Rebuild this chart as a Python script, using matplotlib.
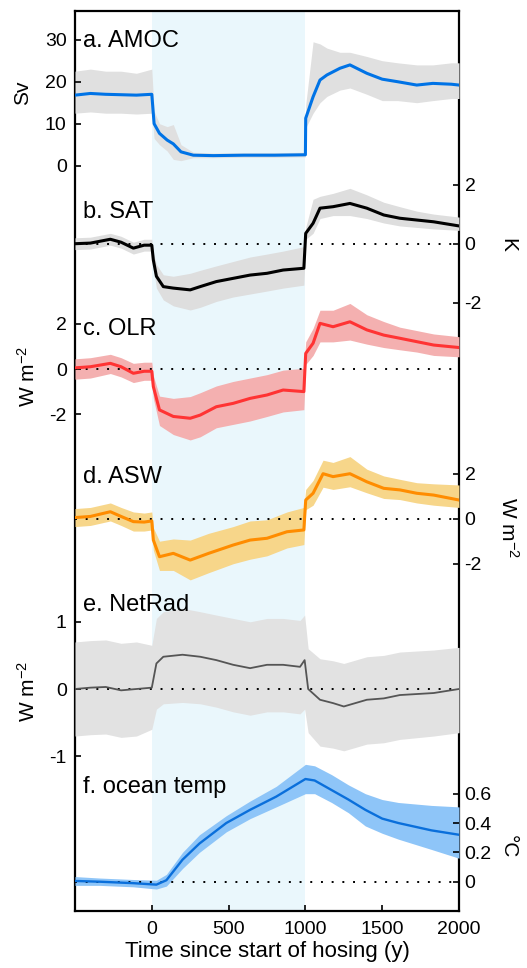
import numpy as np
import matplotlib
matplotlib.use("Agg")
import matplotlib.pyplot as plt

plt.rcParams['font.family'] = 'Liberation Sans'
plt.rcParams['axes.unicode_minus'] = False
plt.rcParams['mathtext.fontset'] = 'custom'
plt.rcParams['mathtext.rm'] = 'Liberation Sans'
plt.rcParams['mathtext.default'] = 'regular'

# a. AMOC (Sv)
amoc_yr = [-500, -400, -300, -200, -100, 0, 15, 50, 100, 140, 190, 270, 400, 600, 800, 1000,
           1002, 1050, 1095, 1140, 1225, 1290, 1400, 1500, 1600, 1725, 1830, 1950, 2000]
amoc = [16.8, 17.2, 17.0, 16.9, 16.8, 17.0, 10.0, 7.7, 6.1, 5.2, 3.3, 2.5, 2.4, 2.5, 2.5, 2.6,
        11.3, 16.4, 20.4, 21.6, 23.2, 24.0, 22.0, 20.6, 20.0, 19.2, 19.6, 19.4, 19.2]
amoc_lo = [12.5, 12.8, 12.5, 12.5, 12.3, 12.5, 6.5, 5.0, 3.5, 1.5, 1.2, 1.9, 1.9, 2.0, 2.0, 2.1,
           9.0, 12.5, 15.0, 16.5, 18.0, 18.5, 17.0, 15.5, 15.5, 15.0, 15.5, 16.0, 16.0]
amoc_hi = [22.5, 23.0, 22.5, 22.5, 22.0, 23.0, 13.0, 10.0, 9.3, 9.8, 5.0, 3.2, 3.0, 3.1, 3.1, 3.2,
           14.5, 29.5, 29.0, 28.0, 27.0, 27.0, 26.0, 25.0, 24.5, 24.0, 24.0, 24.5, 24.5]

# b. SAT (K)
sat_yr = [-500, -400, -270, -200, -120, -50, 0, 10, 30, 75, 140, 250, 315, 420, 530, 640, 750, 855, 990,
          1002, 1050, 1095, 1180, 1290, 1400, 1510, 1615, 1725, 1835, 2000]
sat = [0.0, 0.02, 0.15, 0.05, -0.15, -0.05, -0.05, -0.55, -1.1, -1.45, -1.5, -1.56, -1.45, -1.28, -1.17,
       -1.06, -1.0, -0.89, -0.83, 0.35, 0.69, 1.2, 1.25, 1.36, 1.2, 0.97, 0.86, 0.8, 0.74, 0.6]
sat_lo = [-0.2, -0.18, -0.05, -0.15, -0.35, -0.25, -0.25, -0.8, -1.5, -1.9, -2.1, -2.24, -2.15, -1.95,
          -1.8, -1.7, -1.6, -1.5, -1.4, 0.15, 0.35, 0.85, 0.95, 0.95, 0.85, 0.7, 0.6, 0.55, 0.5, 0.45]
sat_hi = [0.2, 0.22, 0.35, 0.25, 0.05, 0.15, 0.15, -0.3, -0.7, -1.05, -1.1, -1.0, -0.9, -0.75, -0.6,
          -0.45, -0.35, -0.25, -0.1, 0.55, 1.5, 1.6, 1.7, 1.87, 1.65, 1.4, 1.25, 1.1, 1.0, 0.9]

# c. OLR (W m-2)
olr_yr = [-500, -400, -270, -200, -120, -50, 0, 10, 50, 140, 250, 315, 420, 530, 640, 750, 855, 990,
          1002, 1050, 1095, 1180, 1290, 1400, 1510, 1615, 1725, 1835, 2000]
olr = [0.05, 0.1, 0.25, 0.1, -0.19, -0.1, -0.1, -0.78, -1.81, -2.1, -2.18, -2.04, -1.67, -1.52, -1.3,
       -1.15, -0.93, -1.0, 0.69, 1.14, 2.02, 1.87, 2.09, 1.73, 1.5, 1.36, 1.21, 1.06, 0.95]
olr_lo = [-0.45, -0.4, -0.2, -0.35, -0.6, -0.5, -0.5, -1.3, -2.5, -2.9, -3.14, -3.0, -2.6, -2.45, -2.3,
          -2.1, -1.9, -1.8, 0.2, 0.6, 1.2, 1.2, 1.28, 1.1, 0.95, 0.85, 0.75, 0.6, 0.54]
olr_hi = [0.45, 0.5, 0.65, 0.5, 0.25, 0.3, 0.3, -0.3, -1.2, -1.3, -1.22, -1.05, -0.75, -0.55, -0.4,
          -0.25, -0.05, 0.03, 1.2, 1.8, 2.6, 2.6, 2.9, 2.4, 2.1, 1.85, 1.7, 1.55, 1.43]

# d. ASW (W m-2)
asw_yr = [-500, -400, -270, -200, -120, -50, 0, 10, 50, 140, 250, 370, 530, 640, 750, 880, 990,
          1002, 1050, 1115, 1180, 1290, 1400, 1510, 1615, 1725, 1835, 2000]
asw = [0.05, 0.1, 0.31, 0.1, -0.13, -0.15, -0.1, -0.95, -1.69, -1.54, -1.84, -1.54, -1.17, -0.95, -0.87,
       -0.58, -0.5, 0.83, 1.13, 2.0, 1.87, 2.0, 1.64, 1.35, 1.28, 1.13, 1.05, 0.83]
asw_lo = [-0.35, -0.3, -0.1, -0.3, -0.55, -0.55, -0.5, -1.4, -2.3, -2.3, -2.72, -2.4, -2.0, -1.8, -1.65,
          -1.3, -1.15, 0.4, 0.6, 1.4, 1.3, 1.42, 1.15, 0.9, 0.85, 0.7, 0.6, 0.5]
asw_hi = [0.45, 0.5, 0.7, 0.5, 0.3, 0.25, 0.3, -0.4, -1.0, -0.9, -0.95, -0.65, -0.35, -0.1, -0.05,
          0.3, 0.5, 1.3, 1.7, 2.6, 2.5, 2.76, 2.2, 1.9, 1.75, 1.6, 1.55, 1.5]

# e. NetRad (W m-2)
net_yr = [-500, -400, -300, -200, -100, 0, 30, 75, 200, 315, 420, 530, 640, 750, 855, 965, 995,
          1018, 1095, 1180, 1250, 1400, 1510, 1615, 1835, 2000]
net = [0.0, 0.02, 0.03, -0.02, 0.0, 0.02, 0.38, 0.48, 0.51, 0.48, 0.43, 0.36, 0.31, 0.36, 0.36, 0.33, 0.43,
       0.0, -0.16, -0.21, -0.26, -0.16, -0.14, -0.09, -0.06, 0.0]
net_lo = [-0.7, -0.68, -0.67, -0.72, -0.7, -0.6, -0.3, -0.22, -0.2, -0.22, -0.27, -0.34, -0.39, -0.34,
          -0.34, -0.37, -0.3, -0.65, -0.85, -0.88, -0.92, -0.82, -0.8, -0.75, -0.7, -0.65]
net_hi = [0.7, 0.72, 0.73, 0.68, 0.7, 0.65, 1.05, 1.15, 1.2, 1.15, 1.1, 1.05, 1.0, 1.05, 1.05, 1.02, 1.1,
          0.6, 0.45, 0.42, 0.38, 0.48, 0.5, 0.55, 0.58, 0.62]

# f. ocean temp (degC)
oce_yr = [-500, -340, -120, 30, 95, 200, 310, 485, 640, 810, 1000, 1060, 1170, 1280, 1390, 1500,
          1605, 1820, 2000]
oce = [0.005, 0.0, -0.01, -0.02, 0.01, 0.15, 0.26, 0.4, 0.49, 0.58, 0.7, 0.69, 0.625, 0.56, 0.49, 0.43,
       0.4, 0.35, 0.32]
oce_lo = [-0.025, -0.025, -0.035, -0.05, -0.03, 0.09, 0.2, 0.34, 0.43, 0.51, 0.6, 0.6, 0.54, 0.47, 0.38,
          0.33, 0.29, 0.22, 0.16]
oce_hi = [0.035, 0.025, 0.015, 0.01, 0.05, 0.2, 0.32, 0.45, 0.55, 0.65, 0.8, 0.79, 0.73, 0.66, 0.6,
          0.56, 0.54, 0.52, 0.51]

W, H = 527, 968
TOP, BOT, LEFT, RIGHT = 11, 911, 75, 459
pos = [LEFT / W, 1 - BOT / H, (RIGHT - LEFT) / W, (BOT - TOP) / H]

fig = plt.figure(figsize=(W / 100, H / 100), dpi=100)
ax = fig.add_axes(pos)
ax.set_xlim(-500, 2000)
ax.set_ylim(0, 1)
ax.set_yticks([])
ax.axvspan(0, 1000, color='#eaf7fc', lw=0)
ax.set_xticks([0, 500, 1000, 1500, 2000])
ax.tick_params(axis='x', direction='in', length=4, width=1.2, pad=7, labelsize=14)
for s in ax.spines.values():
    s.set_linewidth(1.6)
ax.set_xlabel('Time since start of hosing (y)', fontsize=16, labelpad=2)


def panel(name, p0, scale, side, ticks, yr, mid, lo, hi, col, band, lw=2.2, zero=True):
    # p0 = pixel row of the zero value, scale = pixels per unit
    pax = fig.add_axes(pos, label=name)
    pax.patch.set_visible(False)
    for s in pax.spines.values():
        s.set_visible(False)
    pax.xaxis.set_visible(False)
    pax.set_xlim(-500, 2000)
    pax.set_ylim((p0 - BOT) / scale, (p0 - TOP) / scale)
    pax.set_yticks(ticks)
    pax.set_yticklabels([('%g' % t) for t in ticks])
    if side == 'right':
        pax.yaxis.tick_right()
        pax.tick_params(axis='y', direction='in', length=4, width=1.2, pad=4, labelsize=14)
    else:
        pax.tick_params(axis='y', direction='in', length=4, width=1.2, pad=6, labelsize=14)
    pax.fill_between(yr, lo, hi, color=band, lw=0)
    if zero:
        pax.axhline(0, color='black', lw=1.4, ls=(0, (1, 4.5)))
    pax.plot(yr, mid, color=col, lw=lw)
    return pax


panel('a', 165.7, 4.2, 'left', [0, 10, 20, 30], amoc_yr, amoc, amoc_lo, amoc_hi,
      '#0073e6', '#e0e0e0', zero=False)
panel('b', 243.7, 29.6, 'right', [-2, 0, 2], sat_yr, sat, sat_lo, sat_hi, 'black', '#dedede')
panel('c', 369, 22.6, 'left', [-2, 0, 2], olr_yr, olr, olr_lo, olr_hi, '#ff3333', '#f4b0b0')
panel('d', 518.7, 22.5, 'right', [-2, 0, 2], asw_yr, asw, asw_lo, asw_hi, '#ff8c00', '#f7d68a')
panel('e', 689, 67.2, 'left', [-1, 0, 1], net_yr, net, net_lo, net_hi, '#555555', '#e2e2e2', lw=1.3)
panel('f', 881.7, 146.7, 'right', [0, 0.2, 0.4, 0.6], oce_yr, oce, oce_lo, oce_hi,
      '#0a6fdb', '#8ec5f8', lw=1.7)


def ftext(x, y, s, **kw):
    fig.text(x / W, 1 - y / H, s, **kw)


for lab, y in [('a. AMOC', 41), ('b. SAT', 212), ('c. OLR', 329), ('d. ASW', 477),
               ('e. NetRad', 605), ('f. ocean temp', 787)]:
    ftext(83, y, lab, fontsize=17, ha='left', va='center')

ftext(23, 93, 'Sv', fontsize=15, rotation=90, ha='center', va='center')
ftext(508, 245, 'K', fontsize=15, rotation=-90, ha='center', va='center')
ftext(28, 377, 'W m$^{-2}$', fontsize=15, rotation=90, ha='center', va='center')
ftext(508, 527, 'W m$^{-2}$', fontsize=15, rotation=-90, ha='center', va='center')
ftext(28, 692, 'W m$^{-2}$', fontsize=15, rotation=90, ha='center', va='center')
ftext(508, 847, '°C', fontsize=15, rotation=-90, ha='center', va='center')

fig.savefig('out.png', dpi=100)
